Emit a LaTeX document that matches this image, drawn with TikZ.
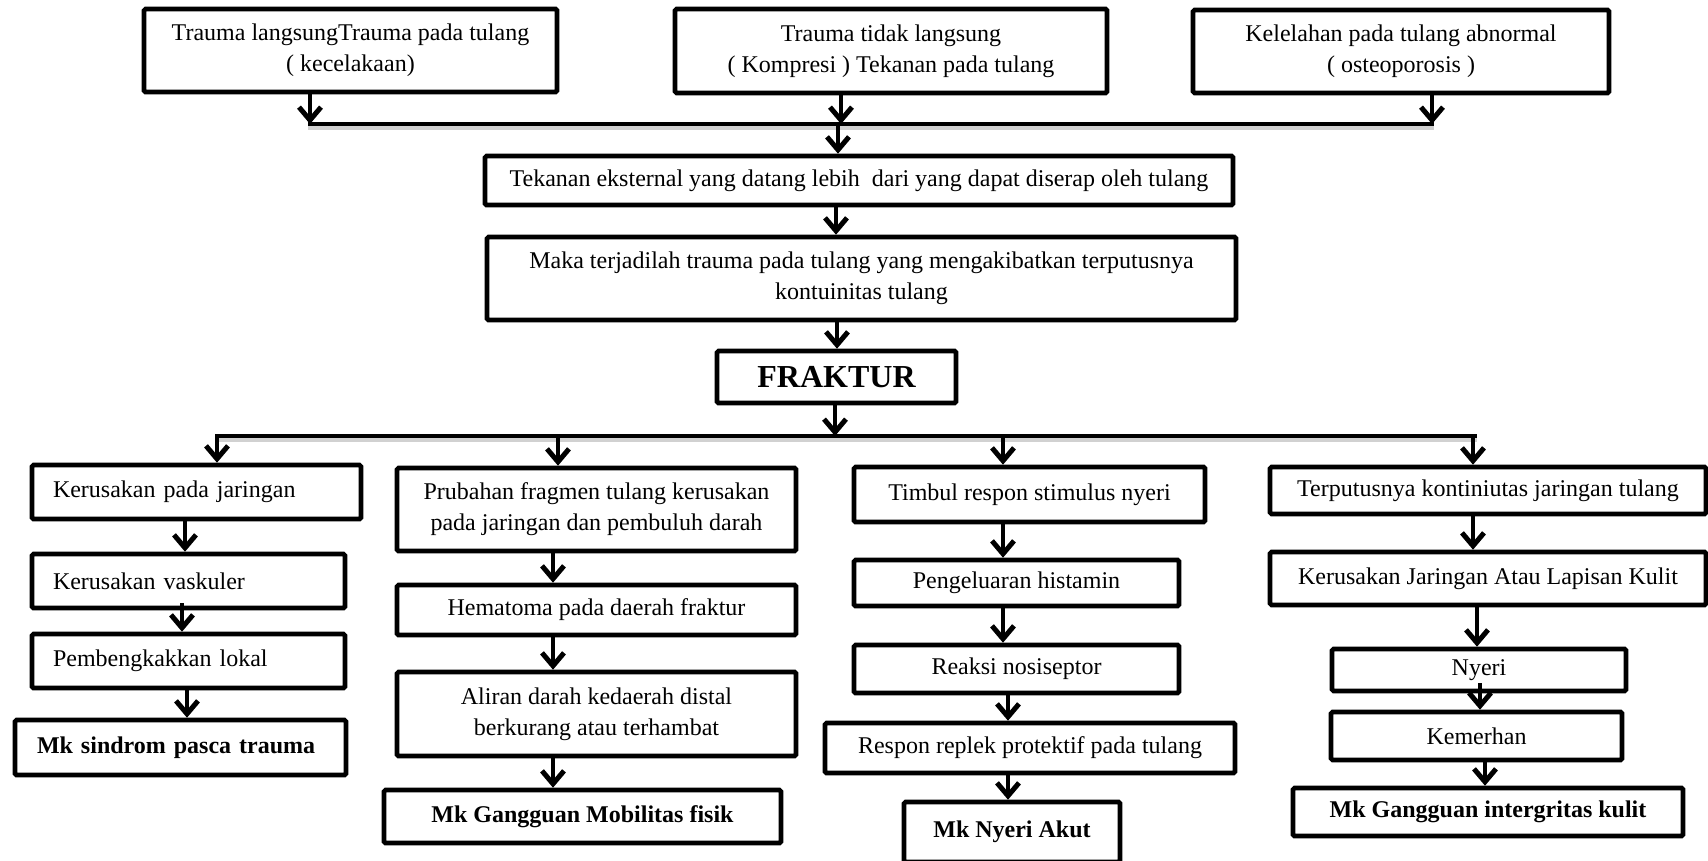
\documentclass[tikz,border=0pt]{standalone}
\usepackage{fontspec}
\setmainfont{Liberation Serif}
\usetikzlibrary{arrows.meta}
\begin{document}
\begin{tikzpicture}[x=1pt,y=-1pt,
  bx/.style={draw, line width=4.6pt, rounded corners=1.5pt, inner sep=0pt, align=center, fill=white,
             font=\fontsize{24}{31}\selectfont},
  bxl/.style={bx, align=left, inner xsep=21pt},
  mk/.style={bx, font=\fontsize{24}{31}\selectfont\bfseries},
  mkl/.style={bxl, inner xsep=22pt, font=\fontsize{24}{31}\selectfont\bfseries},
  arr/.style={line width=4.4pt, -{Straight Barb[length=13pt,width=22pt,line width=5pt]}},
  ln/.style={line width=4.6pt, line cap=rect},
  shd/.style={line width=4pt, black!18, line cap=rect},
]
\useasboundingbox (0,0) rectangle (1708,860);
\clip (0,0) rectangle (1708,860);
\fill[white] (0,0) rectangle (1708,860);

% top row
\node[bx, minimum width=413pt, minimum height=83pt] (B1) at (350.5,50.5)
  {Trauma langsungTrauma pada tulang\\( kecelakaan)};
\node[bx, minimum width=432pt, minimum height=84pt] (B2) at (891,51)
  {Trauma tidak langsung\\( Kompresi ) Tekanan pada tulang};
\node[bx, minimum width=416pt, minimum height=83pt] (B3) at (1401,51.5)
  {Kelelahan pada tulang abnormal\\( osteoporosis )};

\coordinate (c1) at (310,124);
\coordinate (c2) at (841,124);
\coordinate (c3) at (1432,124);
\coordinate (c4) at (838,124);

\draw[shd] ([yshift=-4pt]c1) -- ([yshift=-4pt]c3);
\draw[ln] (c1) -- (c3);
\draw[arr] ([xshift=-40.5pt]B1.south) -- (c1);
\draw[arr] ([xshift=-50pt]B2.south) -- (c2);
\draw[arr] ([xshift=31pt]B3.south) -- (c3);

% middle chain
\node[bx, minimum width=748pt, minimum height=49pt] (Tek) at (859,180.5)
  {Tekanan eksternal yang datang lebih\ \ dari yang dapat diserap oleh tulang};
\node[bx, minimum width=749pt, minimum height=83pt] (Maka) at (861.5,278.5)
  {Maka terjadilah trauma pada tulang yang mengakibatkan terputusnya\\kontuinitas tulang};
\node[bx, minimum width=239pt, minimum height=52pt, font=\fontsize{32}{38}\selectfont\bfseries] (FR) at (836.5,377)
  {FRAKTUR};

\draw[arr] (c4) -- (c4 |- Tek.north);
\draw[arr] ([xshift=-23pt]Tek.south) -- ([xshift=-23pt]Tek.south |- Maka.north);
\draw[arr] ([xshift=-24.5pt]Maka.south) -- ([xshift=-24.5pt]Maka.south |- FR.north);

\coordinate (d0) at (835,436);
\coordinate (d1) at (217,436);
\coordinate (d2) at (558,436);
\coordinate (d3) at (1003,436);
\coordinate (d4) at (1473,436);
\coordinate (dend) at (1475,436);

\draw[shd] ([yshift=-4pt]d1) -- ([yshift=-4pt]dend);
\draw[ln] (d1) -- (dend);
\draw[arr] ([xshift=-1.5pt]FR.south) -- (d0);

% column 1
\node[bxl, text width=287pt, minimum height=54pt] (K1) at (196.5,492) {Kerusakan pada jaringan};
\node[bxl, text width=271pt, minimum height=54pt] (K2) at (188.5,581) {Kerusakan vaskuler};
\node[bxl, text width=271pt, minimum height=54pt] (K3) at (188.5,661) {Pembengkakkan lokal};
\node[mkl, text width=287pt, minimum height=55pt] (K4) at (180.5,747.5) {Mk sindrom pasca trauma};

% column 2
\node[bx, minimum width=399pt, minimum height=83pt] (P1) at (596.5,509.5)
  {Prubahan fragmen tulang kerusakan\\pada jaringan dan pembuluh darah};
\node[bx, minimum width=399pt, minimum height=50pt] (P2) at (596.5,610) {Hematoma pada daerah fraktur};
\node[bx, minimum width=399pt, minimum height=84pt] (P3) at (596.5,714)
  {Aliran darah kedaerah distal\\berkurang atau terhambat};
\node[mk, minimum width=397pt, minimum height=53pt] (P4) at (582.5,816.5) {Mk Gangguan Mobilitas fisik};

% column 3
\node[bx, minimum width=351pt, minimum height=55pt] (T1) at (1029.5,494.5) {Timbul respon stimulus nyeri};
\node[bx, minimum width=325pt, minimum height=46pt] (T2) at (1016.5,583) {Pengeluaran histamin};
\node[bx, minimum width=325pt, minimum height=48pt] (T3) at (1016.5,669) {Reaksi nosiseptor};
\node[bx, minimum width=410pt, minimum height=50pt] (T4) at (1030,748) {Respon replek protektif pada tulang};
\node[mk, minimum width=216pt, minimum height=60pt] (T5) at (1012,832) {Mk Nyeri Akut};

% column 4
\node[bx, minimum width=436pt, minimum height=47pt] (R1) at (1488,490.5) {Terputusnya kontiniutas jaringan tulang};
\node[bx, minimum width=436pt, minimum height=53pt] (R2) at (1488,578.5) {Kerusakan Jaringan Atau Lapisan Kulit};
\node[bx, minimum width=294pt, minimum height=42pt] (R3) at (1479,670) {Nyeri};
\node[bx, minimum width=291pt, minimum height=48pt] (R4) at (1476.5,736) {Kemerhan};
\node[mk, minimum width=390pt, minimum height=48pt] (R5) at (1488,812) {Mk Gangguan intergritas kulit};

% branch arrows
\draw[arr] (d1) -- (d1 |- K1.north);
\draw[arr] (d2) -- (d2 |- P1.north);
\draw[arr] (d3) -- (d3 |- T1.north);
\draw[arr] (d4) -- (d4 |- R1.north);

% column 1 arrows
\draw[arr] ([xshift=-11.5pt]K1.south) -- ([xshift=-11.5pt]K1.south |- K2.north);
\draw[arr] ([xshift=-6.5pt,yshift=7pt]K2.south) -- ([xshift=-6.5pt]K2.south |- K3.north);
\draw[arr] ([xshift=-1.5pt]K3.south) -- ([xshift=-1.5pt]K3.south |- K4.north);

% column 2 arrows
\draw[arr] ([xshift=-43.5pt]P1.south) -- ([xshift=-43.5pt]P1.south |- P2.north);
\draw[arr] ([xshift=-43.5pt]P2.south) -- ([xshift=-43.5pt]P2.south |- P3.north);
\draw[arr] ([xshift=-43.5pt]P3.south) -- ([xshift=-43.5pt]P3.south |- P4.north);

% column 3 arrows
\draw[arr] ([xshift=-26.5pt]T1.south) -- ([xshift=-26.5pt]T1.south |- T2.north);
\draw[arr] ([xshift=-13.5pt]T2.south) -- ([xshift=-13.5pt]T2.south |- T3.north);
\draw[arr] ([xshift=-8.5pt]T3.south) -- ([xshift=-8.5pt]T3.south |- T4.north);
\draw[arr] ([xshift=-22pt]T4.south) -- ([xshift=-22pt]T4.south |- T5.north);

% column 4 arrows
\draw[arr] ([xshift=-15pt]R1.south) -- ([xshift=-15pt]R1.south |- R2.north);
\draw[arr] ([xshift=-11pt]R2.south) -- ([xshift=-11pt]R2.south |- R3.north);
\draw[arr] ([xshift=1pt,yshift=10pt]R3.south) -- ([xshift=1pt]R3.south |- R4.north);
\draw[arr] ([xshift=8.5pt]R4.south) -- ([xshift=8.5pt]R4.south |- R5.north);
\end{tikzpicture}
\end{document}
